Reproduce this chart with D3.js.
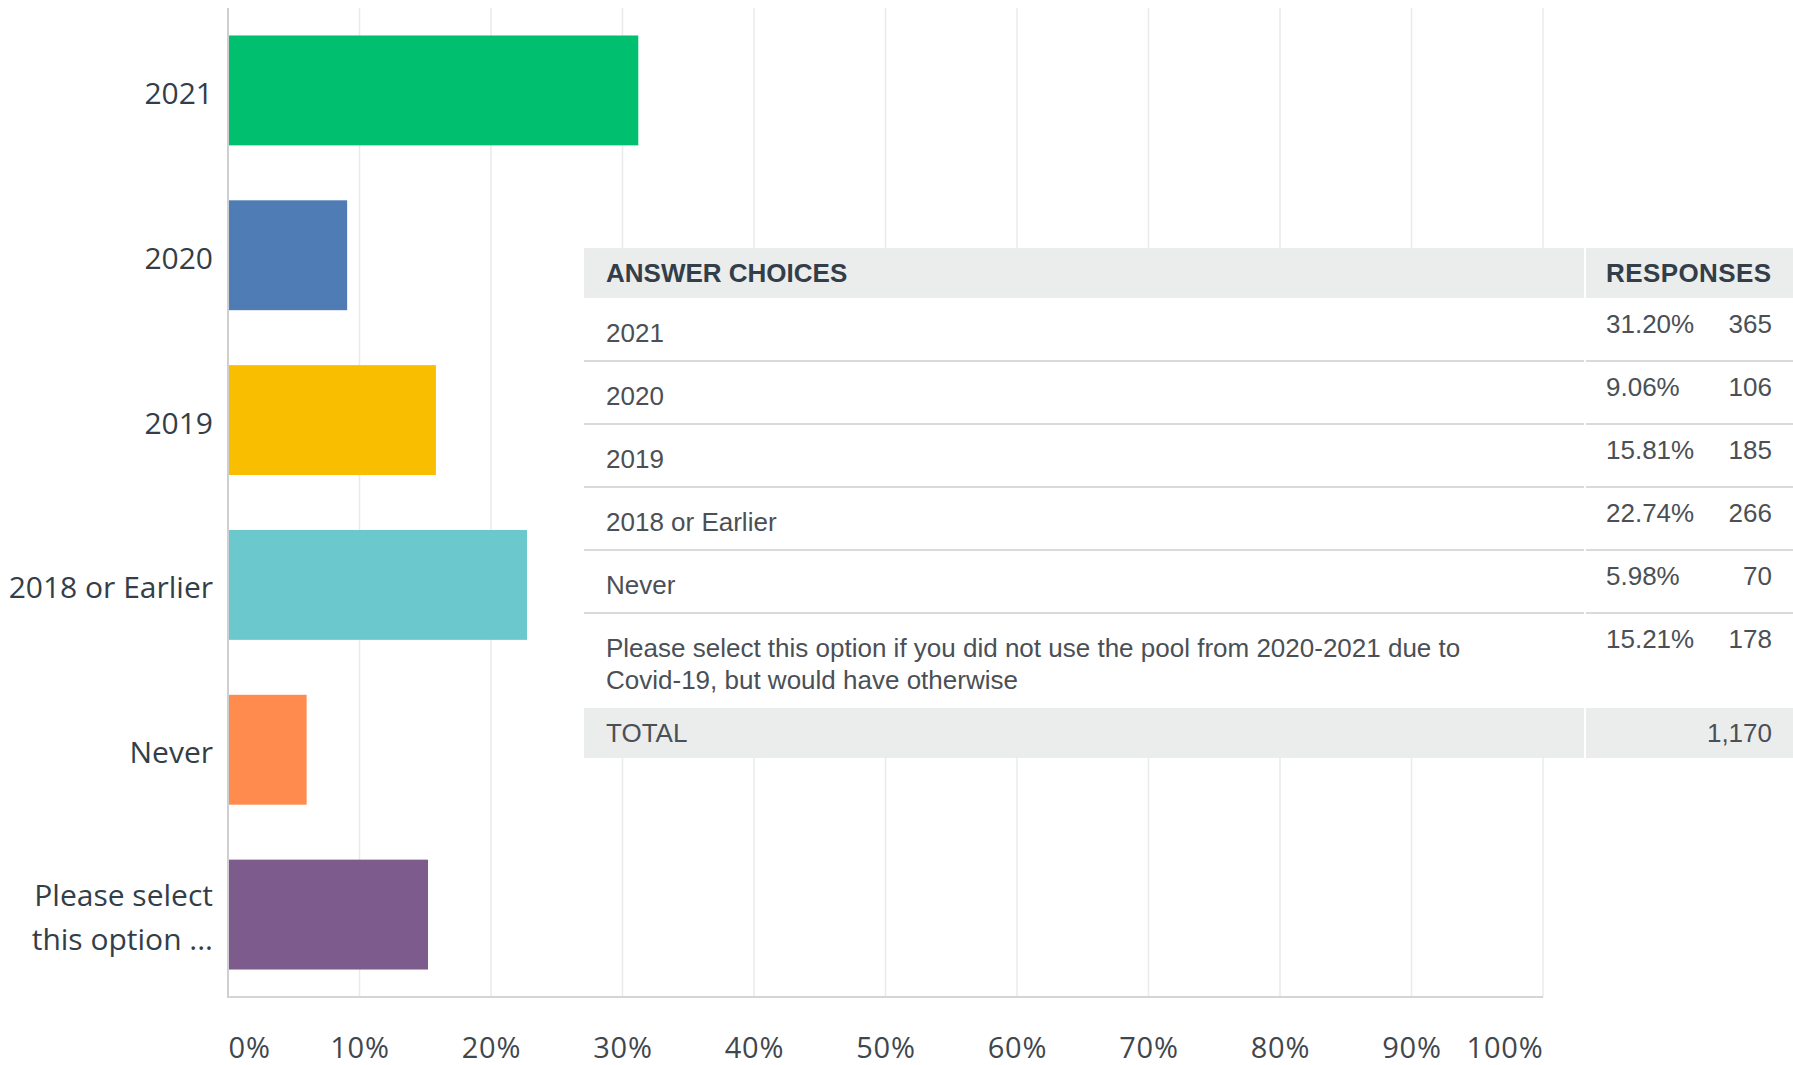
<!doctype html>
<html>
<head>
<meta charset="utf-8">
<script src="https://d3js.org/d3.v7.min.js"></script>
<style>
  body { margin: 0; background: #fff; }
  svg { display: block; }
</style>
</head>
<body>
<div id="viz"></div>
<script>
// chart data
var categories = ["2021", "2020", "2019", "2018 or Earlier", "Never", "Please select"];
var axisLabels = [["2021"], ["2020"], ["2019"], ["2018 or Earlier"], ["Never"], ["Please select", "this option ..."]];
var percents = [31.20, 9.06, 15.81, 22.74, 5.98, 15.21];
var counts = [365, 106, 185, 266, 70, 178];
var colors = ["#00bf6f", "#507cb6", "#f9be00", "#6bc8cd", "#ff8b4f", "#7d5b8d"];
var tickValues = [0, 10, 20, 30, 40, 50, 60, 70, 80, 90, 100];

// table data
var tableHeaders = ["ANSWER CHOICES", "RESPONSES"];
var tableLabels = [
  ["2021"], ["2020"], ["2019"], ["2018 or Earlier"], ["Never"],
  ["Please select this option if you did not use the pool from 2020-2021 due to", "Covid-19, but would have otherwise"]
];
var totalLabel = "TOTAL";
var totalCount = 1170;

var W = 1793, H = 1065;
var svg = d3.select("#viz").append("svg")
    .attr("width", W)
    .attr("height", H);

var x = d3.scaleLinear().domain([0, 100]).range([228, 1543]);
var y = d3.scaleBand().domain(categories).range([8, 997])
    .paddingInner(1 / 3).paddingOuter(1 / 6);

// gridlines
svg.append("g").selectAll("line")
  .data(tickValues.slice(1))
  .enter().append("line")
    .attr("x1", function(d) { return x(d); })
    .attr("x2", function(d) { return x(d); })
    .attr("y1", 8)
    .attr("y2", 997)
    .attr("stroke", "#e9eaea")
    .attr("stroke-width", 1.5);

// bars
svg.append("g").selectAll("rect")
  .data(categories)
  .enter().append("rect")
    .attr("x", x(0))
    .attr("y", function(d) { return y(d); })
    .attr("width", function(d, i) { return x(percents[i]) - x(0); })
    .attr("height", y.bandwidth())
    .attr("fill", function(d, i) { return colors[i]; });

// axis lines
svg.append("line")
    .attr("x1", x(0)).attr("x2", x(0))
    .attr("y1", 8).attr("y2", 998)
    .attr("stroke", "#cdcfd0").attr("stroke-width", 2);
svg.append("line")
    .attr("x1", x(0)).attr("x2", x(100))
    .attr("y1", 997).attr("y2", 997)
    .attr("stroke", "#d3d5d6").attr("stroke-width", 2);

// y labels
var yLab = svg.append("g").selectAll("text")
  .data(categories)
  .enter().append("text")
    .attr("text-anchor", "end")
    .attr("font-family", "Open Sans")
    .attr("font-size", 30)
    .attr("fill", "#333e48");
yLab.each(function(d, i) {
  var lines = axisLabels[i];
  var cy = y(d) + y.bandwidth() / 2;
  var t = d3.select(this);
  lines.forEach(function(l, j) {
    t.append("tspan")
      .attr("x", 213)
      .attr("y", cy + 13.5 + (j - (lines.length - 1) / 2) * 44.6)
      .text(l);
  });
});

// x axis labels
var xAxis = svg.append("g")
    .attr("transform", "translate(0,997)")
    .call(d3.axisBottom(x).tickValues(tickValues).tickSize(0)
      .tickFormat(function(d) { return d + "%"; }));
xAxis.select(".domain").remove();
xAxis.selectAll("text")
    .attr("y", 0)
    .attr("dy", 61)
    .attr("font-family", "Open Sans")
    .attr("font-size", 29)
    .attr("letter-spacing", 0.8)
    .attr("fill", "#3f474e")
    .attr("text-anchor", function(d) { return d === 0 ? "start" : d === 100 ? "end" : "middle"; });

// table
var tLeft = 584, tSplit = 1584, tRight = W;
var headTop = 248, headH = 50, lineH = 32, rowBase = 63;
var tbl = svg.append("g")
    .attr("font-family", "Liberation Sans, Arial, sans-serif")
    .attr("font-size", 26);

// row tops
var tops = [], yy = headTop + headH;
tableLabels.forEach(function(l) {
  tops.push(yy);
  yy += rowBase + (l.length - 1) * lineH;
});
var totalTop = yy;

tbl.append("rect").attr("x", tLeft).attr("y", headTop)
    .attr("width", tRight - tLeft).attr("height", totalTop + headH - headTop)
    .attr("fill", "#fff");

// header
tbl.append("rect").attr("x", tLeft).attr("y", headTop)
    .attr("width", tSplit - tLeft).attr("height", headH).attr("fill", "#ebeded");
tbl.append("rect").attr("x", tSplit + 2).attr("y", headTop)
    .attr("width", tRight - tSplit - 2).attr("height", headH).attr("fill", "#ebeded");
tbl.append("text").attr("x", 606).attr("y", headTop + 34)
    .attr("font-weight", "bold").attr("fill", "#333e48")
    .text(tableHeaders[0]);
tbl.append("text").attr("x", 1606).attr("y", headTop + 34)
    .attr("font-weight", "bold").attr("fill", "#333e48").attr("letter-spacing", 0.4)
    .text(tableHeaders[1]);

// body rows
tableLabels.forEach(function(lines, i) {
  var top = tops[i];
  if (i > 0) {
    tbl.append("line").attr("x1", tLeft).attr("x2", tSplit)
      .attr("y1", top).attr("y2", top).attr("stroke", "#d8dadb").attr("stroke-width", 2);
    tbl.append("line").attr("x1", tSplit + 2).attr("x2", tRight)
      .attr("y1", top).attr("y2", top).attr("stroke", "#d8dadb").attr("stroke-width", 2);
  }
  lines.forEach(function(l, j) {
    tbl.append("text").attr("x", 606).attr("y", top + 44 + j * lineH)
      .attr("fill", "#4a5056").text(l);
  });
  tbl.append("text").attr("x", 1606).attr("y", top + 35)
    .attr("fill", "#4a5056").text(percents[i].toFixed(2) + "%");
  tbl.append("text").attr("x", 1772).attr("y", top + 35)
    .attr("text-anchor", "end").attr("fill", "#4a5056").text(counts[i]);
});

// total row
tbl.append("rect").attr("x", tLeft).attr("y", totalTop)
    .attr("width", tSplit - tLeft).attr("height", headH).attr("fill", "#ebeded");
tbl.append("rect").attr("x", tSplit + 2).attr("y", totalTop)
    .attr("width", tRight - tSplit - 2).attr("height", headH).attr("fill", "#ebeded");
tbl.append("text").attr("x", 606).attr("y", totalTop + 34)
    .attr("fill", "#4a5056").text(totalLabel);
tbl.append("text").attr("x", 1772).attr("y", totalTop + 34)
    .attr("text-anchor", "end").attr("fill", "#4a5056").text(d3.format(",")(totalCount));
</script>
</body>
</html>
